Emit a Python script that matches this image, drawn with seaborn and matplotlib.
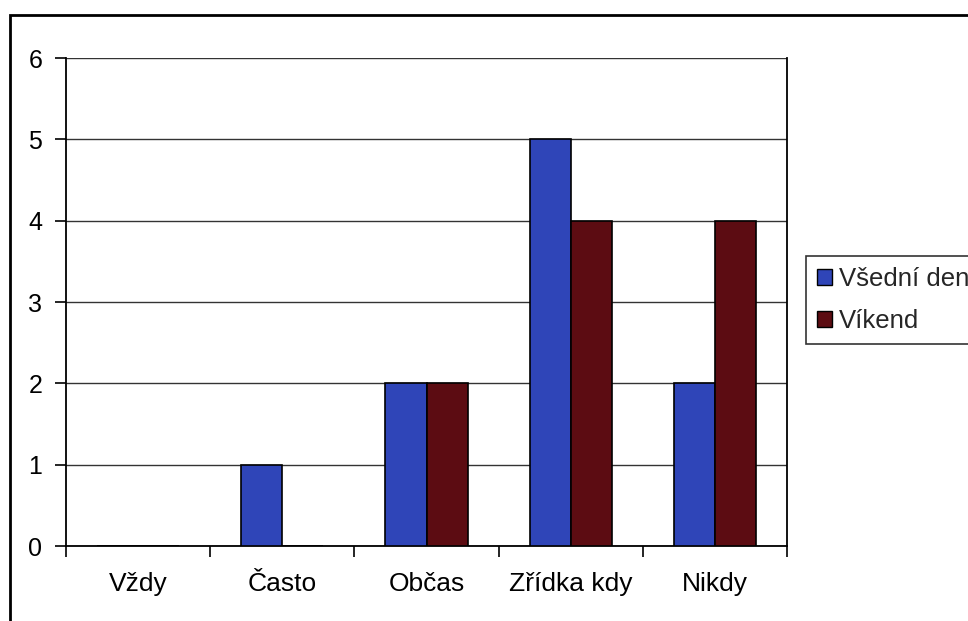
import matplotlib
matplotlib.use("Agg")
import matplotlib.pyplot as plt
import matplotlib.patches as mpatches
import seaborn as sns
import pandas as pd

categories = ["Vždy", "Často", "Občas", "Zřídka kdy", "Nikdy"]
vsedni_den = [0, 1, 2, 5, 2]
vikend = [0, 0, 2, 4, 4]
series_names = ["Všední den", "Víkend"]
colors = ["#2f45b8", "#5c0c12"]

df = pd.DataFrame({
    "kategorie": categories * 2,
    "hodnota": vsedni_den + vikend,
    "serie": [series_names[0]] * len(categories) + [series_names[1]] * len(categories),
})

sns.set_theme(style="white")
plt.rcParams["font.family"] = ["Liberation Sans", "DejaVu Sans"]

fig = plt.figure(figsize=(9.68, 6.21), dpi=100)
ax = fig.add_axes([66 / 968, 1 - 546 / 621, (787 - 66) / 968, (546 - 58) / 621])

sns.barplot(data=df, x="kategorie", y="hodnota", hue="serie", order=categories,
            hue_order=series_names, palette=colors, saturation=1, width=0.57,
            edgecolor="black", linewidth=1.2, ax=ax, legend=False, zorder=3)

ax.set_ylim(0, 6)
ax.set_xlim(-0.5, 4.5)
ax.set_yticks(range(0, 7))
ax.set_xlabel("")
ax.set_ylabel("")
ax.yaxis.grid(True, color="#333333", linewidth=1.0, zorder=0)
ax.set_axisbelow(True)

# category boundaries carry the x ticks
ax.set_xticks([i + 0.5 for i in range(-1, 5)], minor=True)
ax.set_xticks(range(len(categories)))
ax.set_xticklabels(categories)
ax.tick_params(axis="x", which="major", length=0, pad=19, labelsize=19, colors="black")
ax.tick_params(axis="x", which="minor", length=8, width=1.2, color="black", direction="out", bottom=True)
ax.tick_params(axis="y", which="major", length=8, width=1.2, color="black", direction="out",
               left=True, pad=9, labelsize=18, labelcolor="black")

ax.spines["top"].set_visible(False)
for side in ["left", "bottom", "right"]:
    ax.spines[side].set_visible(True)
    ax.spines[side].set_color("black")
    ax.spines[side].set_linewidth(1.3)

# outer chart frame
fig.patches.append(mpatches.Rectangle((10 / 968, -0.2), 1.2, 1 - 15 / 621 + 0.2,
                                      transform=fig.transFigure, fill=False,
                                      edgecolor="black", linewidth=2))

handles = [mpatches.Patch(facecolor=c, edgecolor="black", linewidth=1.0, label=n)
           for c, n in zip(colors, series_names)]
leg = fig.legend(handles=handles, loc="upper left", bbox_to_anchor=(806 / 968, 1 - 256 / 621),
                 fontsize=18.5, frameon=True, fancybox=False, handlelength=0.6, handleheight=0.6,
                 handletextpad=0.25, borderpad=0.42, labelspacing=0.7, borderaxespad=0)
leg.get_frame().set_edgecolor("black")
leg.get_frame().set_linewidth(1.2)

fig.savefig("out.png", dpi=100)
